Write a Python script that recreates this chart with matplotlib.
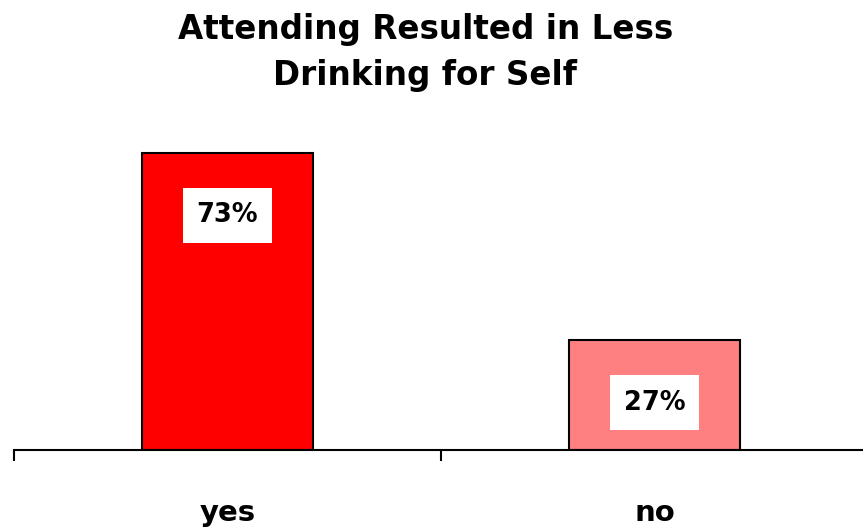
import matplotlib.pyplot as plt

# Survey answers and their shares
categories = ['yes', 'no']
percents = [73, 27]
bar_colors = ['#FF0000', '#FF8080']

plt.rcParams['font.family'] = ['DejaVu Sans']

fig = plt.figure(figsize=(8.63, 5.32), dpi=100)
ax = fig.add_axes([14 / 863, 1 - 450 / 532, 854 / 863, (450 - 124.4) / 532])

x = range(len(categories))
bars = ax.bar(x, percents, width=0.40, color=bar_colors, edgecolor='black', linewidth=1.5, zorder=2)

# Value labels in white boxes inside the bars
for bar, val in zip(bars, percents):
    ax.annotate(f'{val}%', xy=(bar.get_x() + bar.get_width() / 2, val),
                xytext=(0, -45), textcoords='offset points',
                ha='center', va='center', fontsize=18.5, fontweight='bold',
                bbox=dict(boxstyle='square,pad=0.55', facecolor='white', edgecolor='none'))

ax.set_xlim(-0.5, 1.5)
ax.set_ylim(0, 80)

# Category names centred, boundary ticks between them
ax.set_xticks(list(x))
ax.set_xticklabels(categories, fontsize=21, fontweight='bold')
ax.tick_params(axis='x', which='major', length=0, pad=35)
ax.set_xticks([-0.5, 0.5, 1.5], minor=True)
ax.tick_params(axis='x', which='minor', length=8, width=1.5, direction='out')
ax.set_yticks([])

for side in ['left', 'right', 'top']:
    ax.spines[side].set_visible(False)
ax.spines['bottom'].set_linewidth(1.5)

fig.text(0.493, 0.975, 'Attending Resulted in Less\nDrinking for Self', ha='center', va='top',
         fontsize=23.5, fontweight='bold', linespacing=1.5)

fig.savefig('out.png', dpi=100)
